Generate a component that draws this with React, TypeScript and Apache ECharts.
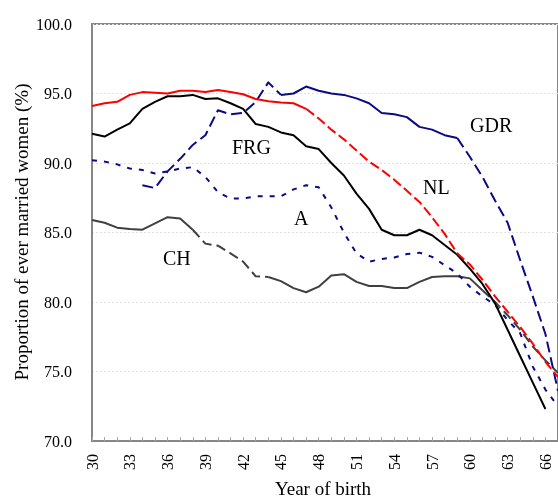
import React, { useEffect, useRef } from 'react';
import * as echarts from 'echarts';

// Year of birth (19xx)
const years = [30, 31, 32, 33, 34, 35, 36, 37, 38, 39, 40, 41, 42, 43, 44, 45, 46, 47, 48, 49,
  50, 51, 52, 53, 54, 55, 56, 57, 58, 59, 60, 61, 62, 63, 64, 65, 66, 67];

// Netherlands, years 30..67
const nlValues = [94.1, 94.3, 94.4, 94.9, 95.1, 95.05, 95.0, 95.2, 95.2, 95.1,
  95.25, 95.1, 94.95, 94.6, 94.45, 94.35, 94.3, 93.9, 93.2, 92.4,
  91.7, 90.9, 90.1, 89.5, 88.8, 88.0, 87.2, 86.1, 84.9, 83.5,
  82.7, 81.6, 80.4, 79.3, 78.2, 77.0, 75.7, 74.6];

// West Germany, years 30..66
const frgValues = [92.1, 91.9, 92.4, 92.85, 93.9, 94.4, 94.8, 94.8, 94.9, 94.6,
  94.65, 94.3, 93.9, 92.8, 92.6, 92.2, 92.0, 91.2, 91.0, 90.0,
  89.1, 87.8, 86.7, 85.2, 84.8, 84.8, 85.2, 84.8, 84.1, 83.4,
  82.4, 81.3, 79.9, 78.0, 76.1, 74.2, 72.3];

// East Germany, years 34..67
const gdrValues = [88.4, 88.2, 89.4, 90.3, 91.3, 92.0,
  93.8, 93.5, 93.6, 94.4, 95.8, 94.9, 95.0, 95.5, 95.2, 95.0,
  94.9, 94.65, 94.3, 93.6, 93.5, 93.3, 92.6, 92.4, 92.0, 91.8,
  90.45, 89.0, 87.3, 85.7, 83.0, 80.4, 77.7, 73.6];

// Austria, years 30..67
const aValues = [90.2, 90.1, 89.9, 89.6, 89.5, 89.25, 89.4, 89.6, 89.7, 89.0,
  87.9, 87.45, 87.45, 87.6, 87.6, 87.6, 88.1, 88.4, 88.25, 86.8,
  85.0, 83.5, 82.9, 83.1, 83.2, 83.45, 83.55, 83.25, 82.65, 82.05,
  81.1, 80.4, 79.8, 78.7, 77.75, 75.35, 73.7, 72.5];

// Switzerland, years 30..67
const chValues = [85.9, 85.7, 85.35, 85.25, 85.2, 85.65, 86.1, 86.0, 85.2, 84.2,
  84.05, 83.5, 82.9, 81.85, 81.8, 81.5, 81.0, 80.7, 81.1, 81.9,
  82.0, 81.45, 81.15, 81.15, 81.0, 81.0, 81.45, 81.8, 81.85, 81.85,
  81.7, 80.85, 80.0, 79.05, 78.0, 76.8, 75.8, 74.9];

const yTicks = [70, 75, 80, 85, 90, 95, 100];

const FONT = '"Liberation Serif", "Times New Roman", serif';

function seg(values: number[], firstYear: number, from: number, to: number) {
  const out: [number, number][] = [];
  years.forEach((y) => {
    const i = y - firstYear;
    if (y >= from && y <= to && i >= 0 && i < values.length) out.push([y, values[i]]);
  });
  return out;
}

function line(name: string, data: [number, number][], color: string, type: any, z = 2) {
  return {
    type: 'line',
    name,
    data,
    showSymbol: false,
    symbol: 'none',
    z,
    lineStyle: { color, width: 2, type, cap: 'butt', join: 'round' },
  };
}

export default function App() {
  const ref = useRef<HTMLDivElement>(null);
  useEffect(() => {
    const chart = echarts.init(ref.current!, null, { renderer: 'svg' });
    const navy = '#0a0a86';
    chart.setOption({
      animation: false,
      grid: {
        left: 92, top: 24, width: 470, height: 417,
        show: true, borderColor: '#878787', borderWidth: 2, backgroundColor: 'transparent',
      },
      xAxis: {
        type: 'value', min: 30, max: 67, interval: 3,
        axisLine: { lineStyle: { color: '#878787', width: 2 } },
        axisTick: { show: true, inside: true, length: 4, lineStyle: { color: '#a8a8a8' } },
        minorTick: { show: true, splitNumber: 3, length: 4, lineStyle: { color: '#a8a8a8' } },
        splitLine: { show: false },
        axisLabel: {
          rotate: 90, margin: 13, fontFamily: FONT, fontSize: 16, color: '#000',
          formatter: (v: number) => (v === 67 ? '' : String(v)),
        },
      },
      yAxis: {
        type: 'value', min: yTicks[0], max: yTicks[yTicks.length - 1], interval: 5,
        axisLine: { show: true, lineStyle: { color: '#878787', width: 2 } },
        axisTick: { show: false },
        splitLine: { show: true, lineStyle: { color: '#e2e2e2', width: 1, type: [2, 2] } },
        axisLabel: {
          margin: 20, fontFamily: FONT, fontSize: 16, color: '#000',
          formatter: (v: number) => v.toFixed(1),
        },
      },
      graphic: [
        {
          type: 'text', x: 21, y: 232, rotation: Math.PI / 2,
          style: { text: 'Proportion of ever married women (%)', font: `19px ${FONT}`, fill: '#000', align: 'center', verticalAlign: 'middle' },
        },
        { type: 'text', x: 323, y: 488, style: { text: 'Year of birth', font: `19px ${FONT}`, fill: '#000', align: 'center', verticalAlign: 'middle' } },
        { type: 'text', x: 232, y: 147, style: { text: 'FRG', font: `20px ${FONT}`, fill: '#000', align: 'left', verticalAlign: 'middle' } },
        { type: 'text', x: 470, y: 125, style: { text: 'GDR', font: `20px ${FONT}`, fill: '#000', align: 'left', verticalAlign: 'middle' } },
        { type: 'text', x: 423, y: 187, style: { text: 'NL', font: `20px ${FONT}`, fill: '#000', align: 'left', verticalAlign: 'middle' } },
        { type: 'text', x: 294, y: 218, style: { text: 'A', font: `20px ${FONT}`, fill: '#000', align: 'left', verticalAlign: 'middle' } },
        { type: 'text', x: 163, y: 258, style: { text: 'CH', font: `20px ${FONT}`, fill: '#000', align: 'left', verticalAlign: 'middle' } },
      ],
      series: [
        line('CH', seg(chValues, 30, 30, 38), '#404040', 'solid'),
        line('CH', seg(chValues, 30, 38, 44), '#404040', [10, 5]),
        line('CH', seg(chValues, 30, 44, 61), '#404040', 'solid'),
        line('CH', seg(chValues, 30, 61, 67), '#404040', [10, 5]),
        line('A', seg(aValues, 30, 30, 67), navy, [5, 7], 3),
        line('GDR', seg(gdrValues, 34, 34, 45), navy, [11, 5], 3),
        line('GDR', seg(gdrValues, 34, 45, 59), navy, 'solid', 3),
        line('GDR', seg(gdrValues, 34, 59, 67), navy, [11, 5], 3),
        line('FRG', seg(frgValues, 30, 30, 66), '#000000', 'solid', 4),
        line('NL', seg(nlValues, 30, 30, 47), '#ff0000', 'solid', 5),
        line('NL', seg(nlValues, 30, 47, 67), '#ff0000', [10, 4], 5),
      ],
    });
    return () => chart.dispose();
  }, []);
  return <div ref={ref} style={{ position: 'fixed', left: 0, top: 0, width: 558, height: 498 }} />;
}
